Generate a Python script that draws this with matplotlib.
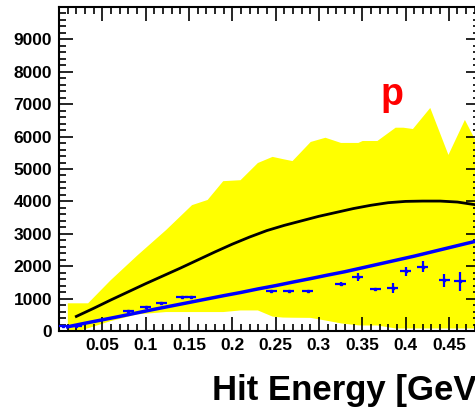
import numpy as np
from matplotlib import pyplot as plt
from matplotlib.ticker import MultipleLocator

plt.rcParams['font.family'] = ['Liberation Sans', 'DejaVu Sans']
plt.rcParams['font.weight'] = 'bold'

# yellow band (spread of hit response)
band_x = [0.0096, 0.02, 0.033, 0.059, 0.09, 0.123, 0.153, 0.171, 0.189, 0.209,
          0.229, 0.246, 0.258, 0.269, 0.290, 0.307, 0.325, 0.345, 0.350, 0.367,
          0.388, 0.397, 0.408, 0.428, 0.449, 0.468, 0.486]
band_hi = [870, 870, 870, 1580, 2350, 3130, 3900, 4060, 4640, 4670,
           5200, 5390, 5320, 5260, 5850, 5980, 5820, 5820, 5880, 5880,
           6290, 6290, 6250, 6900, 5450, 6530, 5600]
band_lo = [0, 0, 100, 320, 530, 600, 600, 600, 600, 650,
           650, 460, 430, 425, 420, 340, 250, 190, 186, 186,
           93, 93, 93, 93, 93, 93, 93]

# black curve
black_x = [0.02, 0.04, 0.06, 0.08, 0.10, 0.12, 0.14, 0.16, 0.18, 0.20, 0.22,
           0.24, 0.26, 0.28, 0.30, 0.32, 0.34, 0.36, 0.38, 0.40, 0.42, 0.44,
           0.46, 0.48]
black_y = [450, 700, 960, 1210, 1460, 1700, 1940, 2190, 2440, 2680, 2900,
           3100, 3260, 3400, 3540, 3660, 3780, 3880, 3960, 4000, 4010, 4010,
           3980, 3900]

# blue curve
blue_x = [0.01, 0.03, 0.05, 0.07, 0.09, 0.11, 0.13, 0.15, 0.17, 0.19, 0.21,
          0.23, 0.25, 0.27, 0.29, 0.31, 0.33, 0.35, 0.37, 0.39, 0.41, 0.43,
          0.45, 0.47, 0.486]
blue_y = [130, 240, 345, 450, 560, 670, 775, 880, 985, 1090, 1190,
          1300, 1400, 1510, 1615, 1725, 1830, 1950, 2070, 2190, 2310, 2440,
          2570, 2700, 2800]

# blue points with errors
pts_x = [0.005, 0.02, 0.08, 0.10, 0.118, 0.142, 0.152, 0.245, 0.265, 0.287,
         0.325, 0.345, 0.365, 0.385, 0.40, 0.42, 0.445, 0.463]
pts_y = [140, 140, 630, 750, 870, 1060, 1060, 1240, 1240, 1240,
         1440, 1670, 1300, 1330, 1840, 1980, 1560, 1530]
pts_err = [0, 0, 0, 0, 0, 0, 0, 0, 0, 0,
           60, 120, 40, 150, 150, 170, 200, 300]

fig = plt.figure(figsize=(4.75, 4.07), dpi=100)
ax = fig.add_axes([59 / 475, 76 / 407, 421 / 475, 324 / 407])

ax.fill_between(band_x, band_lo, band_hi, color='#ffff00', lw=0, zorder=1)
ax.plot(blue_x, blue_y, color='#0000ff', lw=2.5, zorder=3)
ax.errorbar(pts_x, pts_y, yerr=pts_err, xerr=0.0065, fmt='s', ms=1.8,
            color='#0000ff', elinewidth=1.6, capsize=0, zorder=3)
ax.plot(black_x, black_y, color='black', lw=2, zorder=4)

ax.text(0.3846, 6975, 'p', color='#ff0000', fontsize=27, fontweight='bold',
        ha='center', va='baseline')

ax.set_xlim(0, 0.486)
ax.set_ylim(0, 10000)
ax.xaxis.set_minor_locator(MultipleLocator(0.01))
ax.set_yticks(range(0, 10000, 1000))
ax.yaxis.set_minor_locator(MultipleLocator(200))
ax.set_xticks([0.05, 0.1, 0.15, 0.2, 0.25, 0.3, 0.35, 0.4, 0.45])
ax.set_xticklabels(['0.05', '0.1', '0.15', '0.2', '0.25', '0.3', '0.35', '0.4', '0.45'])

ax.tick_params(which='both', direction='in', top=True, right=True, width=1.2,
               labelsize=12.5, pad=5)
ax.tick_params(which='major', length=10)
ax.tick_params(which='minor', length=5)
for s in ax.spines.values():
    s.set_linewidth(1.5)

fig.text(212 / 475, 7 / 407, 'Hit Energy [GeV]', fontsize=25, fontweight='bold',
         ha='left', va='baseline')

fig.savefig('out.png', dpi=100)
